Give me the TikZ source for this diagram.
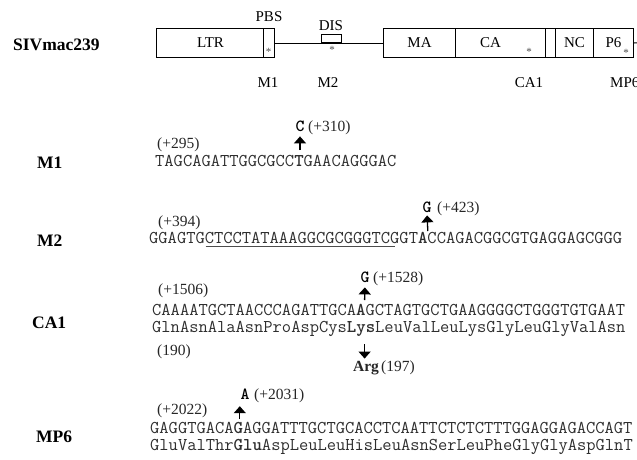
\documentclass[tikz,border=0pt]{standalone}
\usepackage{fontspec}
\setmainfont{Liberation Serif}
\usetikzlibrary{arrows.meta}
\begin{document}
\begin{tikzpicture}[x=1pt,y=-1pt,
  seq/.style={font=\fontsize{18}{18}\selectfont\ttfamily, text=black!82, inner sep=0pt, anchor=base west},
  lab/.style={font=\fontsize{15.5}{16}\selectfont, text=black!85, inner sep=0pt, anchor=base west},
  glab/.style={font=\fontsize{15}{16}\selectfont, inner sep=0pt},
  sec/.style={font=\fontsize{17.5}{18}\selectfont\bfseries, inner sep=0pt, anchor=base west},
  mut/.style={font=\fontsize{17}{17}\selectfont\ttfamily\bfseries, inner sep=0pt, anchor=base},
  arr/.style={line width=1.3pt, -{Triangle[width=12pt,length=7pt]}},
  gbox/.style={draw, line width=1pt, inner sep=0pt, minimum height=29pt, anchor=north west, font=\fontsize{15}{16}\selectfont},
  ast/.style={font=\fontsize{11}{11}\selectfont, inner sep=0pt, text=black!70}
]
\useasboundingbox (0,0) rectangle (637,459);

% ---------- genome map ----------
\node[sec] (siv) at (13,50) {SIVmac239};
\node[gbox, minimum width=118pt] (ltr) at (156,28) {\hspace*{-10pt}LTR};
\draw[line width=1pt] (263,28) -- (263,57);
\node[gbox, minimum width=72pt] (ma) at (383,28) {MA};
\node[gbox, minimum width=90pt] (ca) at (455,28) {\hspace*{-20pt}CA};
\node[gbox, minimum width=10pt] (sp) at (545,28) {};
\node[gbox, minimum width=38pt] (nc) at (555,28) {NC};
\node[gbox, minimum width=40pt] (p6) at (593,28) {P6};
\draw[line width=1pt] (ltr.east) -- (ma.west);
\coordinate (tail) at (641,42.5);
\draw[line width=1pt] (p6.east) -- (tail);
\node[draw, line width=1pt, minimum width=20pt, minimum height=8pt, inner sep=0pt] (dis) at (331,38.5) {};

\node[ast] (a1) at (268.5,52) {*};
\node[ast] (a2) at (332,50) {*};
\node[ast] (a3) at (529,52) {*};
\node[ast] (a4) at (626,53) {*};

\node[glab, anchor=base] (pbs) at (269,21) {PBS};
\node[glab, anchor=base] (dislab) at (331,30) {DIS};
\node[glab, anchor=base] (gm1) at (268,87) {M1};
\node[glab, anchor=base] (gm2) at (328,87) {M2};
\node[glab, anchor=base] (gca1) at (529,87) {CA1};
\node[glab, anchor=base west] (gmp6) at (610,87) {MP6};

% ---------- M1 ----------
\node[sec] (m1) at (37,168) {M1};
\node[lab] (m1p) at (157,148) {(+295)};
\node[seq] (m1s) at (155,166) {TAGCAGATTGGCGCC{\bfseries T}GAACAGGGAC};
\node[mut] (m1m) at (300,131) {C};
\node[lab] (m1n) at (308,131) {(+310)};
\coordinate (m1a) at (300,150);
\draw[arr, shorten >=5pt] (m1a) -- (m1m.south);

% ---------- M2 ----------
\node[sec] (m2) at (37,246) {M2};
\node[lab] (m2p) at (158,226) {(+394)};
\node[seq] (m2s) at (149,243) {GGAGTGCTCCTATAAAGGCGCGGGTCGGT{\bfseries A}CCAGACGGCGTGAGGAGCGGG};
\coordinate (u1) at (205.7,246);
\coordinate (u2) at (394.7,246);
\draw[black!70, line width=0.9pt] (u1) -- (u2);
\node[mut] (m2m) at (427,212) {G};
\node[lab] (m2n) at (437,212) {(+423)};
\coordinate (m2a) at (427.8,231);
\draw[arr, shorten >=3pt] (m2a) -- (m2m.south);

% ---------- CA1 ----------
\node[sec] (ca1) at (32,328) {CA1};
\node[lab] (ca1p) at (158,294) {(+1506)};
\node[seq] (ca1s) at (152,315) {CAAAATGCTAACCCAGATTGCA{\bfseries A}GCTAGTGCTGAAGGGGCTGGGTGTGAAT};
\node[seq] (ca1aa) at (152,332) {GlnAsnAlaAsnProAspCys{\bfseries Lys}LeuValLeuLysGlyLeuGlyValAsn};
\node[mut] (ca1m) at (365,282) {G};
\node[lab] (ca1n) at (373,282) {(+1528)};
\coordinate (ca1a) at (364.6,300);
\draw[arr, shorten >=5pt] (ca1a) -- (ca1m.south);
\node[lab] (ca1q) at (157,355) {(190)};
\coordinate (ca1b) at (364.6,344);
\node[lab, anchor=base, font=\fontsize{15.5}{16}\selectfont\bfseries] (arg) at (366,371) {Arg};
\node[lab] (argn) at (381,371) {(197)};
\draw[arr, shorten >=2pt] (ca1b) -- (arg.north -| ca1b);

% ---------- MP6 ----------
\node[sec] (mp6) at (36,442) {MP6};
\node[lab] (mp6p) at (157,414) {(+2022)};
\node[seq] (mp6s) at (150,433) {GAGGTGACA{\bfseries G}AGGATTTGCTGCACCTCAATTCTCTCTTTGGAGGAGACCAGT};
\node[seq] (mp6aa) at (150,450) {GluValThr{\bfseries Glu}AspLeuLeuHisLeuAsnSerLeuPheGlyGlyAspGlnT};
\node[mut] (mp6m) at (245,399) {A};
\node[lab] (mp6n) at (254,399) {(+2031)};
\coordinate (mp6a) at (239.8,419);
\draw[arr, shorten >=7pt] (mp6a) -- (mp6m.south -| mp6a);
\end{tikzpicture}
\end{document}
